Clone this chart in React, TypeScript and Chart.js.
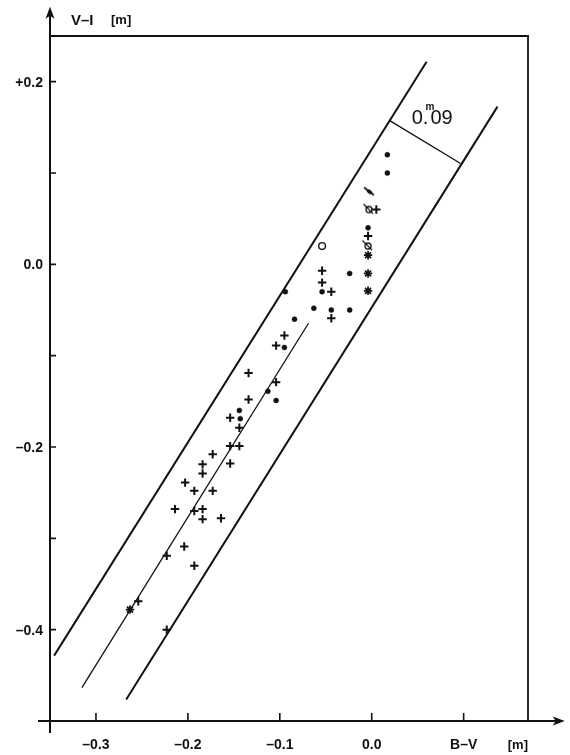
import React, { useEffect, useRef } from "react";
import { Chart, registerables } from "chart.js";
Chart.register(...registerables);

// ---- data (B-V, V-I in magnitudes) ----
const dotBV = [0.017, 0.017, -0.004, -0.024, -0.054, -0.094, -0.063, -0.044, -0.024, -0.084, -0.095, -0.113, -0.104, -0.144, -0.143];
const dotVI = [0.12, 0.1, 0.04, -0.01, -0.03, -0.03, -0.048, -0.05, -0.05, -0.06, -0.091, -0.139, -0.149, -0.16, -0.169];

const plusBV = [0.005, -0.004, -0.054, -0.054, -0.044, -0.044, -0.095, -0.104, -0.134, -0.104, -0.134, -0.154, -0.144, -0.154, -0.144, -0.173, -0.184, -0.154, -0.184, -0.203, -0.193, -0.173, -0.214, -0.193, -0.184, -0.184, -0.164, -0.204, -0.223, -0.193, -0.254, -0.223];
const plusVI = [0.06, 0.031, -0.007, -0.02, -0.03, -0.059, -0.078, -0.089, -0.119, -0.129, -0.148, -0.168, -0.179, -0.199, -0.199, -0.208, -0.219, -0.218, -0.229, -0.239, -0.248, -0.248, -0.268, -0.27, -0.268, -0.279, -0.278, -0.309, -0.319, -0.33, -0.369, -0.4];

const starBV = [-0.004, -0.004, -0.004, -0.263];
const starVI = [0.01, -0.01, -0.029, -0.378];

const openBV = [-0.054];
const openVI = [0.02];

const slashedBV = [-0.003, -0.004];
const slashedVI = [0.06, 0.02];

const dashBV = [-0.003];
const dashVI = [0.08];

// band lines: upper edge, fitted line, lower edge, width marker
const upperBV = [-0.3455, 0.0597];
const upperVI = [-0.4284, 0.2219];
const fitBV = [-0.3153, -0.0688];
const fitVI = [-0.4634, -0.0645];
const lowerBV = [-0.2671, 0.1368];
const lowerVI = [-0.4765, 0.1727];
const widthBV = [0.0196, 0.0967];
const widthVI = [0.1574, 0.1104];

// axes
const xMin = -0.35, xMax = 0.17, yMin = -0.5, yMax = 0.25;
const xArrow = 0.21, yArrow = 0.282;
const xTickValues = [-0.3, -0.2, -0.1, 0.0, 0.1];
const xTickLabels = ["\u20130.3", "\u20130.2", "\u20130.1", "0.0", "B\u2013V"];
const yTickValues = [-0.4, -0.3, -0.2, -0.1, 0.0, 0.1, 0.2];
const yTickLabels = ["\u20130.4", "", "\u20130.2", "", "0.0", "", "+0.2"];

const FONT = "'Liberation Sans', Arial, Helvetica, sans-serif";
const INK = "#111";

function zip(xs: number[], ys: number[]) {
  return xs.map((x, i) => ({ x, y: ys[i] }));
}

function makeSlashedCircle(): HTMLCanvasElement {
  const c = document.createElement("canvas");
  c.width = 16;
  c.height = 16;
  const g = c.getContext("2d")!;
  g.strokeStyle = INK;
  g.lineWidth = 1.2;
  g.beginPath();
  g.moveTo(2.5, 2.5);
  g.lineTo(12, 12);
  g.stroke();
  g.fillStyle = "#fff";
  g.lineWidth = 1.3;
  g.beginPath();
  g.arc(8, 8, 3, 0, Math.PI * 2);
  g.fill();
  g.stroke();
  // redraw the part of the slash over the circle
  g.lineWidth = 1.1;
  g.beginPath();
  g.moveTo(5, 5);
  g.lineTo(10.5, 10.5);
  g.stroke();
  return c;
}

function makeDash(): HTMLCanvasElement {
  const c = document.createElement("canvas");
  c.width = 14;
  c.height = 12;
  const g = c.getContext("2d")!;
  g.strokeStyle = INK;
  g.lineCap = "round";
  g.lineWidth = 1.6;
  g.beginPath();
  g.moveTo(2.5, 2.5);
  g.lineTo(11.5, 9.5);
  g.stroke();
  g.fillStyle = INK;
  g.beginPath();
  g.ellipse(7.5, 6.5, 3.2, 1.8, Math.atan2(7, 9), 0, Math.PI * 2);
  g.fill();
  return c;
}

export default function App() {
  const ref = useRef<HTMLCanvasElement>(null);

  useEffect(() => {
    if (!ref.current) return;

    const paperPlugin = {
      id: "paperAxes",
      afterDraw(chart: any) {
        const ctx = chart.ctx as CanvasRenderingContext2D;
        const X = (v: number) => chart.scales.x.getPixelForValue(v);
        const Y = (v: number) => chart.scales.y.getPixelForValue(v);
        ctx.save();
        ctx.strokeStyle = INK;
        ctx.fillStyle = INK;
        // frame
        ctx.lineWidth = 1.8;
        ctx.beginPath();
        ctx.moveTo(X(xMin), Y(yMax));
        ctx.lineTo(X(xMax), Y(yMax));
        ctx.lineTo(X(xMax), Y(yMin));
        ctx.stroke();
        // axes
        ctx.lineWidth = 2;
        const ax = X(xMin), ay = Y(yMin);
        const yTip = Y(yArrow), xTip = X(xArrow);
        ctx.beginPath();
        ctx.moveTo(ax, ay + 12);
        ctx.lineTo(ax, yTip + 6);
        ctx.moveTo(ax - 12, ay);
        ctx.lineTo(xTip - 6, ay);
        ctx.stroke();
        // arrowheads
        ctx.beginPath();
        ctx.moveTo(ax, yTip);
        ctx.lineTo(ax - 4.5, yTip + 12);
        ctx.lineTo(ax, yTip + 9);
        ctx.lineTo(ax + 4.5, yTip + 12);
        ctx.closePath();
        ctx.fill();
        ctx.beginPath();
        ctx.moveTo(xTip, ay);
        ctx.lineTo(xTip - 12, ay - 4.5);
        ctx.lineTo(xTip - 9, ay);
        ctx.lineTo(xTip - 12, ay + 4.5);
        ctx.closePath();
        ctx.fill();
        // ticks
        ctx.lineWidth = 1.6;
        ctx.beginPath();
        yTickValues.forEach((v) => {
          ctx.moveTo(ax, Y(v));
          ctx.lineTo(ax + 6, Y(v));
        });
        xTickValues.forEach((v) => {
          ctx.moveTo(X(v), ay);
          ctx.lineTo(X(v), ay - 8);
        });
        ctx.stroke();
        // tick labels
        ctx.font = `bold 14px ${FONT}`;
        ctx.textBaseline = "middle";
        ctx.textAlign = "right";
        yTickValues.forEach((v, i) => {
          if (yTickLabels[i]) ctx.fillText(yTickLabels[i], ax - 7, Y(v) + 1);
        });
        ctx.textAlign = "center";
        xTickValues.forEach((v, i) => {
          ctx.fillText(xTickLabels[i], X(v), ay + 24);
        });
        // unit labels
        ctx.font = `bold 13px ${FONT}`;
        ctx.fillText("[m]", X(0.159), ay + 24);
        ctx.textAlign = "left";
        ctx.font = `bold 15px ${FONT}`;
        ctx.fillText("V\u2013I", ax + 21, Y(0.267));
        ctx.font = `bold 13px ${FONT}`;
        ctx.fillText("[m]", ax + 61, Y(0.267));
        // band width label 0.m09
        ctx.textBaseline = "alphabetic";
        ctx.font = `20px ${FONT}`;
        const tx = X(0.0435), ty = Y(0.154);
        ctx.fillText("0.", tx, ty);
        const w0 = ctx.measureText("0.").width;
        ctx.fillText("09", tx + w0 + 2, ty);
        ctx.font = `bold 10px ${FONT}`;
        ctx.fillText("m", tx + w0 - 3, ty - 14);
        ctx.restore();
      },
    };

    const lineDs = (xs: number[], ys: number[], w: number) => ({
      type: "line" as const,
      data: zip(xs, ys),
      showLine: true,
      borderColor: INK,
      borderWidth: w,
      pointRadius: 0,
      fill: false,
      tension: 0,
    });

    const slashed = makeSlashedCircle();
    const dash = makeDash();

    const chart = new Chart(ref.current, {
      type: "scatter",
      data: {
        datasets: [
          lineDs(upperBV, upperVI, 2),
          lineDs(fitBV, fitVI, 1.3),
          lineDs(lowerBV, lowerVI, 2),
          lineDs(widthBV, widthVI, 1.3),
          {
            data: zip(dotBV, dotVI),
            pointStyle: "circle",
            pointRadius: 2.5,
            backgroundColor: INK,
            borderColor: INK,
            borderWidth: 0.5,
          },
          {
            data: zip(plusBV, plusVI),
            pointStyle: "cross",
            pointRadius: 4.2,
            borderColor: INK,
            borderWidth: 2,
          },
          {
            data: zip(starBV, starVI),
            pointStyle: "star",
            pointRadius: 4.2,
            borderColor: INK,
            borderWidth: 1.7,
          },
          {
            data: zip(openBV, openVI),
            pointStyle: "circle",
            pointRadius: 3.4,
            backgroundColor: "#fff",
            borderColor: INK,
            borderWidth: 1.4,
          },
          {
            data: zip(slashedBV, slashedVI),
            pointStyle: slashed,
            pointRadius: 5,
          },
          {
            data: zip(dashBV, dashVI),
            pointStyle: dash,
            pointRadius: 5,
          },
        ],
      },
      options: {
        animation: false,
        responsive: false,
        maintainAspectRatio: false,
        clip: false as any,
        layout: { padding: { left: 50, right: 42, top: 36, bottom: 34 } },
        plugins: { legend: { display: false }, tooltip: { enabled: false } },
        scales: {
          x: { type: "linear", min: xMin, max: xMax, display: false },
          y: { type: "linear", min: yMin, max: yMax, display: false },
        },
      },
      plugins: [paperPlugin],
    });
    return () => chart.destroy();
  }, []);

  return (
    <div style={{ position: "fixed", left: 0, top: 0, width: 570, height: 755, background: "#fff" }}>
      <canvas ref={ref} width={570} height={755} style={{ width: 570, height: 755, display: "block" }} />
    </div>
  );
}
